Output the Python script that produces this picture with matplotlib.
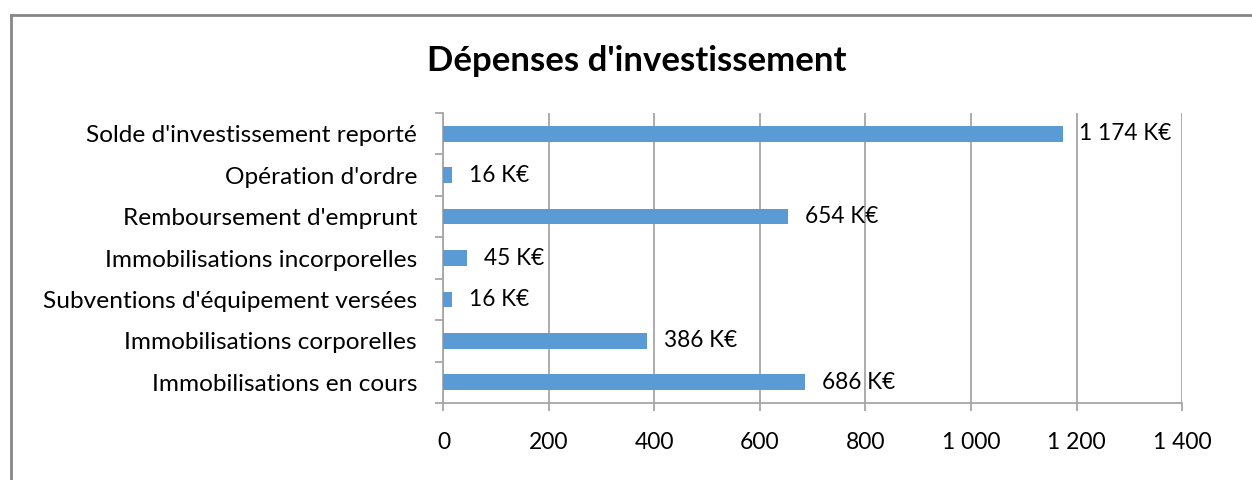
import matplotlib.pyplot as plt
from matplotlib.lines import Line2D

categories = ["Immobilisations en cours", "Immobilisations corporelles",
              "Subventions d'équipement versées", "Immobilisations incorporelles",
              "Remboursement d'emprunt", "Opération d'ordre",
              "Solde d'investissement reporté"]
values = [686, 386, 16, 45, 654, 16, 1174]
x_ticks = [0, 200, 400, 600, 800, 1000, 1200, 1400]
x_tick_labels = ["0", "200", "400", "600", "800", "1 000", "1 200", "1 400"]

plt.rcParams["font.family"] = ["Lato", "DejaVu Sans"]
grid_col = "#a6a6a6"

fig = plt.figure(figsize=(12.52, 4.8), dpi=100, facecolor="white")
ax = fig.add_axes([0.3542, 0.1604, 0.5899, 0.6042])

y = list(range(len(categories)))
ax.barh(y, values, height=0.38, color="#5b9bd5", zorder=3)

for yi, v in zip(y, values):
    label = "{:,}".format(v).replace(",", " ") + " K€"
    ax.annotate(label, (v, yi), xytext=(12, 0), textcoords="offset points",
                va="center", ha="left", fontsize=16.3, color="black", zorder=4)

ax.set_xlim(0, 1400)
ax.set_ylim(-0.5, len(categories) - 0.5)
ax.set_xticks(x_ticks)
ax.set_xticklabels(x_tick_labels, fontsize=16.5)
ax.set_yticks(y)
ax.set_yticklabels(categories, fontsize=17.6)
ax.set_yticks([i - 0.5 for i in range(len(categories) + 1)], minor=True)

ax.xaxis.grid(True, color=grid_col, linewidth=1.3, zorder=0)
ax.tick_params(axis="x", length=6, width=1.3, color=grid_col, pad=15)
ax.tick_params(axis="y", which="major", length=0, pad=19)
ax.tick_params(axis="y", which="minor", length=6, width=1.3, color=grid_col)

for s in ["top", "right"]:
    ax.spines[s].set_visible(False)
for s in ["left", "bottom"]:
    ax.spines[s].set_color(grid_col)
    ax.spines[s].set_linewidth(1.3)

fig.text(0.5088, 0.872, "Dépenses d'investissement", ha="center", va="center",
         fontsize=25, fontweight="bold")

# chart area border (runs off the right and bottom edges)
bx = 10.5 / 1252
by = 1 - 14.5 / 480
fig.add_artist(Line2D([bx, 1.01], [by, by], transform=fig.transFigure,
                      color="#878787", linewidth=2))
fig.add_artist(Line2D([bx, bx], [by, -0.01], transform=fig.transFigure,
                      color="#878787", linewidth=2))

fig.savefig("out.png", dpi=100)
